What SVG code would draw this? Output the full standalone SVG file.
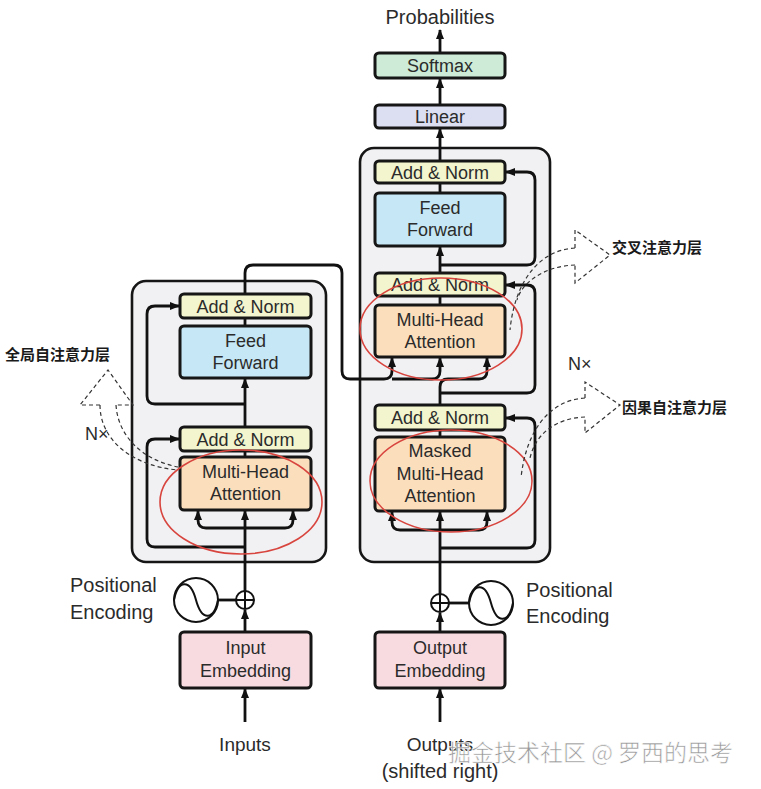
<svg xmlns="http://www.w3.org/2000/svg" width="761" height="789" viewBox="0 0 761 789">
<defs>
<style>
.bg{fill:#ffffff}
.stack{fill:#f1f1f3;stroke:#161616;stroke-width:2.6}
.box{stroke:#161616;stroke-width:3}
.an{fill:#f2f5cd}
.ff{fill:#c6e7f5}
.att{fill:#fbdfbd}
.emb{fill:#f8dbe0}
.sm{fill:#cdebd7}
.lin{fill:#dcdff1}
.t{font-family:"Liberation Sans",Arial,sans-serif;font-size:18px;fill:#2b2b2b;text-anchor:middle}
.tl{font-family:"Liberation Sans",Arial,sans-serif;font-size:20px;fill:#2b2b2b}
.cn{font-family:"Noto Sans CJK SC","Noto Sans",sans-serif;font-size:15px;font-weight:bold;fill:#1a1a1a}
.w{fill:none;stroke:#111;stroke-width:2.8;stroke-linejoin:round}
.wa{fill:none;stroke:#111;stroke-width:2.8;stroke-linejoin:round;marker-end:url(#ah)}
.d{fill:none;stroke:#333;stroke-width:1.2;stroke-dasharray:4 3}
.red{fill:none;stroke:#d8453f;stroke-width:1.6}
.wm{font-family:"Noto Sans CJK SC","Noto Sans",sans-serif;font-size:23px;fill:#8c8c8c;stroke:#ffffff;stroke-width:0.6;opacity:0.9}
</style>
<marker id="ah" viewBox="0 0 10 10" refX="9" refY="5" markerWidth="10" markerHeight="10" markerUnits="userSpaceOnUse" orient="auto">
<path d="M0,1 L10,5 L0,9 Z" fill="#111"/>
</marker>
</defs>
<rect class="bg" x="0" y="0" width="761" height="789"/>

<g id="encoder-stack"><rect class="stack" x="132" y="281" width="194" height="281" rx="14"/></g>
<g id="decoder-stack"><rect class="stack" x="360" y="148" width="190" height="414" rx="14"/></g>

<g id="connectors">
<!-- encoder -->
<path class="wa" d="M245,722 L245,689"/>
<path class="wa" d="M245,632 L245,610"/>
<path class="w" d="M218,600 L236,600"/>
<path class="wa" d="M245,591 L245,511"/>
<path class="wa" d="M245,528 L206,528 Q198,528 198,520 L198,511"/>
<path class="wa" d="M245,528 L285,528 Q293,528 293,520 L293,511"/>
<path class="wa" d="M245,547 L155,547 Q147,547 147,539 L147,447 Q147,439 155,439 L179,439"/>
<path class="w" d="M245,457 L245,451"/>
<path class="wa" d="M245,427 L245,379"/>
<path class="wa" d="M245,404 L155,404 Q147,404 147,396 L147,314 Q147,306 155,306 L179,306"/>
<path class="w" d="M245,326 L245,318"/>
<path class="wa" d="M245,294 L245,273 Q245,265 253,265 L334,265 Q342,265 342,273 L342,371 Q342,379 350,379 L384,379 Q392,379 392,371 L392,358"/>
<path class="wa" d="M392,379 L432,379 Q440,379 440,371 L440,358"/>
<!-- decoder -->
<path class="wa" d="M440,722 L440,689"/>
<path class="wa" d="M440,632 L440,613"/>
<path class="w" d="M449,603 L469,603"/>
<path class="wa" d="M440,594 L440,512"/>
<path class="wa" d="M440,530 L400,530 Q392,530 392,522 L392,512"/>
<path class="wa" d="M440,530 L479,530 Q487,530 487,522 L487,512"/>
<path class="wa" d="M440,548 L527,548 Q535,548 535,540 L535,426 Q535,418 527,418 L506,418"/>
<path class="w" d="M440,437 L440,430"/>
<path class="wa" d="M440,405 L440,387 Q440,379 448,379 L479,379 Q487,379 487,371 L487,358"/>
<path class="wa" d="M440,393 L527,393 Q535,393 535,385 L535,293 Q535,285 527,285 L506,285"/>
<path class="w" d="M440,305 L440,296"/>
<path class="wa" d="M440,273 L440,247"/>
<path class="wa" d="M440,265 L527,265 Q535,265 535,257 L535,180 Q535,172 527,172 L506,172"/>
<path class="w" d="M440,193 L440,183"/>
<path class="wa" d="M440,161 L440,129"/>
<path class="wa" d="M440,105 L440,79"/>
<path class="wa" d="M440,53 L440,30"/>
</g>

<g id="enc-addnorm2"><rect class="box an" x="180" y="294" width="131" height="24" rx="4"/><text class="t" x="245.5" y="312.5">Add &amp; Norm</text></g>
<g id="enc-ff"><rect class="box ff" x="180" y="326" width="131" height="52" rx="4"/><text class="t" x="245.5" y="347">Feed</text><text class="t" x="245.5" y="369">Forward</text></g>
<g id="enc-addnorm1"><rect class="box an" x="180" y="427" width="131" height="24" rx="4"/><text class="t" x="245.5" y="445.5">Add &amp; Norm</text></g>
<g id="enc-mha"><rect class="box att" x="180" y="457" width="131" height="53" rx="4"/><text class="t" x="245.5" y="478">Multi-Head</text><text class="t" x="245.5" y="500">Attention</text></g>
<g id="input-embedding"><rect class="box emb" x="180" y="632" width="131" height="56" rx="4"/><text class="t" x="245.5" y="654">Input</text><text class="t" x="245.5" y="677">Embedding</text></g>

<g id="softmax"><rect class="box sm" x="375" y="53" width="130" height="25" rx="4"/><text class="t" x="440" y="72">Softmax</text></g>
<g id="linear"><rect class="box lin" x="375" y="105" width="130" height="23" rx="4"/><text class="t" x="440" y="123">Linear</text></g>
<g id="dec-addnorm3"><rect class="box an" x="375" y="161" width="130" height="22" rx="4"/><text class="t" x="440" y="178.5">Add &amp; Norm</text></g>
<g id="dec-ff"><rect class="box ff" x="375" y="193" width="130" height="53" rx="4"/><text class="t" x="440" y="214">Feed</text><text class="t" x="440" y="236">Forward</text></g>
<g id="dec-addnorm2"><rect class="box an" x="375" y="273" width="130" height="23" rx="4"/><text class="t" x="440" y="291">Add &amp; Norm</text></g>
<g id="dec-cross-mha"><rect class="box att" x="375" y="305" width="130" height="52" rx="4"/><text class="t" x="440" y="326">Multi-Head</text><text class="t" x="440" y="348">Attention</text></g>
<g id="dec-addnorm1"><rect class="box an" x="375" y="405" width="130" height="25" rx="4"/><text class="t" x="440" y="424">Add &amp; Norm</text></g>
<g id="dec-masked-mha"><rect class="box att" x="375" y="437" width="130" height="74" rx="4"/><text class="t" x="440" y="457">Masked</text><text class="t" x="440" y="480">Multi-Head</text><text class="t" x="440" y="502">Attention</text></g>
<g id="output-embedding"><rect class="box emb" x="375" y="632" width="130" height="56" rx="4"/><text class="t" x="440" y="654">Output</text><text class="t" x="440" y="677">Embedding</text></g>

<g id="enc-posenc">
<circle cx="245" cy="600" r="9" fill="#fff" stroke="#111" stroke-width="2"/>
<path d="M236,600 H254 M245,591 V609" stroke="#111" stroke-width="2" fill="none"/>
<circle cx="196" cy="600" r="22" fill="#fff" stroke="#111" stroke-width="2"/>
<path d="M174,600 C178,580 190,578 196,600 C202,622 214,620 218,600" fill="none" stroke="#111" stroke-width="2"/>
<text class="tl" x="70" y="592">Positional</text><text class="tl" x="70" y="619">Encoding</text>
</g>
<g id="dec-posenc">
<circle cx="440" cy="603" r="9" fill="#fff" stroke="#111" stroke-width="2"/>
<path d="M431,603 H449 M440,594 V612" stroke="#111" stroke-width="2" fill="none"/>
<circle cx="491" cy="603" r="22" fill="#fff" stroke="#111" stroke-width="2"/>
<path d="M469,603 C473,583 485,581 491,603 C497,625 509,623 513,603" fill="none" stroke="#111" stroke-width="2"/>
<text class="tl" x="526" y="597">Positional</text><text class="tl" x="526" y="623">Encoding</text>
</g>

<g id="labels">
<text class="tl" x="440" y="24" text-anchor="middle">Probabilities</text>
<text class="tl" x="245" y="751" text-anchor="middle" style="font-size:19px">Inputs</text>
<text class="tl" x="440" y="751" text-anchor="middle" style="font-size:19px">Outputs</text>
<text class="tl" x="440" y="778" text-anchor="middle">(shifted right)</text>
<text class="tl" x="85" y="440" style="font-size:18px">N×</text>
<text class="tl" x="568" y="370" style="font-size:18px">N×</text>
</g>

<g id="red-ellipses">
<ellipse class="red" cx="241" cy="502" rx="81" ry="52"/>
<ellipse class="red" cx="441" cy="329" rx="81" ry="51"/>
<ellipse class="red" cx="451" cy="481" rx="81" ry="51"/>
</g>

<g id="annot-global">
<path class="d" d="M100,405 L80,405 L108,370 L133,405 L116,405"/>
<path class="d" d="M100,405 C100,440 132,466 178,470"/>
<path class="d" d="M116,405 C118,436 142,460 178,467"/>
<text class="cn" x="5" y="360">全局自注意力层</text>
</g>
<g id="annot-cross">
<path class="d" d="M575,248 L575,230 L610,255 L575,283 L575,265"/>
<path class="d" d="M575,248 C540,250 515,280 510,330"/>
<path class="d" d="M575,265 C545,266 522,282 517,300"/>
<text class="cn" x="612" y="253">交叉注意力层</text>
</g>
<g id="annot-causal">
<path class="d" d="M585,398 L585,382 L620,405 L585,433 L585,417"/>
<path class="d" d="M585,398 C550,400 526,430 521,478"/>
<path class="d" d="M585,417 C558,418 536,432 530,458"/>
<text class="cn" x="622" y="413">因果自注意力层</text>
</g>

<text class="wm" x="448" y="761">掘金技术社区 @ 罗西的思考</text>
</svg>
